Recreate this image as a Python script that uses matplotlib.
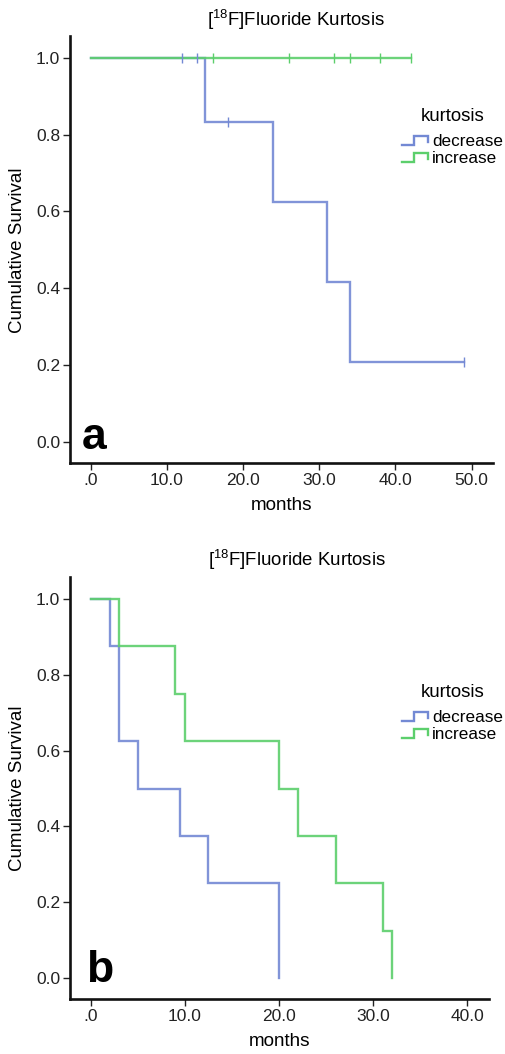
import matplotlib
matplotlib.use("Agg")
import matplotlib.pyplot as plt
from matplotlib.lines import Line2D
from matplotlib.legend_handler import HandlerBase

plt.rcParams['font.family'] = ['Liberation Sans', 'DejaVu Sans']

# ---- data ----
groups = ["decrease", "increase"]
colors = {"decrease": "#7389d4", "increase": "#5ccf6c"}

# panel a
a_dec_t = [0, 15, 24, 31, 34, 49]
a_dec_s = [1.0, 0.833, 0.625, 0.417, 0.208, 0.208]
a_dec_cens_t = [12, 14, 18, 49]
a_dec_cens_s = [1.0, 1.0, 0.833, 0.208]
a_inc_t = [0, 42]
a_inc_s = [1.0, 1.0]
a_inc_cens_t = [16, 26, 32, 34, 38, 42]
a_inc_cens_s = [1.0, 1.0, 1.0, 1.0, 1.0, 1.0]

# panel b
b_dec_t = [0, 2, 3, 5, 9.5, 12.5, 20]
b_dec_s = [1.0, 0.875, 0.625, 0.5, 0.375, 0.25, 0.0]
b_inc_t = [0, 3, 9, 10, 20, 22, 26, 31, 32]
b_inc_s = [1.0, 0.875, 0.75, 0.625, 0.5, 0.375, 0.25, 0.125, 0.0]

a_xticks = [0, 10, 20, 30, 40, 50]
b_xticks = [0, 10, 20, 30, 40]
yticks = [0.0, 0.2, 0.4, 0.6, 0.8, 1.0]

title_text = r"[$^{\mathregular{18}}$F]Fluoride Kurtosis"


class HandlerStep(HandlerBase):
    def create_artists(self, legend, orig_handle, xdescent, ydescent,
                       width, height, fontsize, trans):
        x0 = -xdescent
        y0 = -ydescent
        xs = [x0, x0 + 0.45 * width, x0 + 0.45 * width, x0 + width, x0 + width]
        ys = [y0 + 0.05 * height, y0 + 0.05 * height, y0 + 0.85 * height,
              y0 + 0.85 * height, y0 + 0.35 * height]
        ln = Line2D(xs, ys, color=orig_handle.get_color(), lw=1.7,
                    solid_joinstyle='miter', transform=trans)
        return [ln]


W, H = 505, 1054
fig = plt.figure(figsize=(W / 100, H / 100), dpi=100)


def fx(px):
    return px / W


def fy(py):
    return 1 - py / H


def make_panel(rect, xlim, ylim, xticks, curves, cens, letter, letter_pos,
               title_pos, ylabel_y, legend_pos):
    ax = fig.add_axes(rect)
    handles = []
    for g, (t, s) in zip(groups, curves):
        ln, = ax.plot(t, s, drawstyle='steps-post', color=colors[g], lw=1.7,
                      alpha=0.9, solid_joinstyle='miter')
        handles.append(ln)
    for g, (ct, cs) in zip(groups, cens):
        if ct:
            ax.plot(ct, cs, linestyle='none', marker='|', markersize=7,
                    mew=1.0, color=colors[g])
    ax.set_xlim(*xlim)
    ax.set_ylim(*ylim)
    ax.set_xticks(xticks)
    ax.set_xticklabels([".0" if v == 0 else f"{v:.1f}" for v in xticks])
    ax.set_yticks(yticks)
    ax.set_yticklabels([f"{v:.1f}" for v in yticks])
    for side in ['top', 'right']:
        ax.spines[side].set_visible(False)
    for side in ['left', 'bottom']:
        ax.spines[side].set_linewidth(1.9)
        ax.spines[side].set_color('#111111')
    ax.tick_params(axis='both', direction='out', length=5, width=1.0,
                   labelsize=12.5, colors='#222222', pad=2)
    ax.set_xlabel("months", fontsize=13.6, labelpad=7)
    fig.text(fx(title_pos[0]), fy(title_pos[1]), title_text, ha='center',
             va='center', fontsize=13.4)
    fig.text(fx(18), fy(ylabel_y), "Cumulative Survival", rotation=90,
             ha='center', va='center', fontsize=13.5)
    fig.text(fx(letter_pos[0]), fy(letter_pos[1]), letter, fontsize=32,
             fontweight='bold', ha='left', va='baseline')
    leg = ax.legend(handles, groups, title="kurtosis", loc='upper left',
                    bbox_to_anchor=(fx(legend_pos[0]), fy(legend_pos[1])),
                    bbox_transform=fig.transFigure, frameon=False,
                    fontsize=12.3, title_fontsize=13.4, handlelength=1.55,
                    handletextpad=0.2, borderpad=0, borderaxespad=0,
                    labelspacing=0.12,
                    handler_map={Line2D: HandlerStep()})
    leg._legend_box.align = "center"
    leg._legend_box.sep = 6.5
    return ax


make_panel([fx(70), fy(463), fx(493) - fx(70), fy(36) - fy(463)],
           (-2.7, 52.8), (-0.055, 1.057), a_xticks,
           [(a_dec_t, a_dec_s), (a_inc_t, a_inc_s)],
           [(a_dec_cens_t, a_dec_cens_s), (a_inc_cens_t, a_inc_cens_s)],
           "a", (82, 449), (296, 20), 250, (402, 108))

make_panel([fx(70), fy(999), fx(489) - fx(70), fy(577) - fy(999)],
           (-2.2, 42.3), (-0.055, 1.058), b_xticks,
           [(b_dec_t, b_dec_s), (b_inc_t, b_inc_s)],
           [([], []), ([], [])],
           "b", (86, 982), (297, 560), 788, (402, 684))

fig.savefig("out.png", dpi=100)
